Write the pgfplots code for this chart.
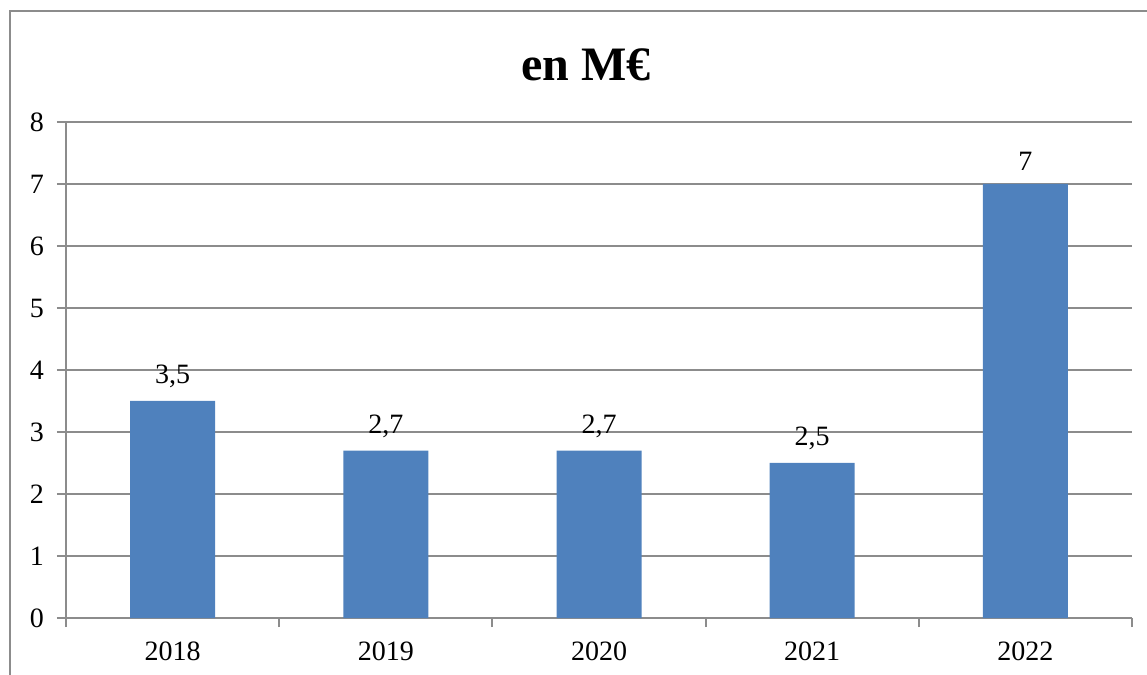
\documentclass[border=0pt]{standalone}
\usepackage{fontspec}
\setmainfont{Liberation Serif}
\usepackage{pgfplots}
\pgfplotsset{compat=1.18}
\definecolor{barblue}{HTML}{4F81BD}
\definecolor{gridgray}{HTML}{8C8C8C}
\begin{document}
\begin{tikzpicture}
\path[use as bounding box] (0,0) rectangle (573.5pt,337.5pt);
\draw[gridgray, line width=1pt] (5pt,-20pt) -- (5pt,332pt) -- (600pt,332pt);
\node[font=\fontsize{24}{28}\selectfont\bfseries] at (293pt,305pt) {en M€};
\begin{axis}[
  at={(33pt,28.5pt)}, anchor=south west,
  scale only axis, width=533pt, height=248pt,
  xmin=-0.5, xmax=4.5, ymin=0, ymax=8,
  axis x line*=bottom, axis y line*=left,
  axis line style={gridgray, line width=1pt, -},
  xtick={0,1,2,3,4},
  xticklabels={2018,2019,2020,2021,2022},
  minor xtick={-0.5,0.5,1.5,2.5,3.5,4.5},
  ytick={0,1,...,8},
  tick align=outside,
  major tick length=4.5pt,
  x tick style={draw=none},
  minor x tick style={draw=gridgray, line width=1pt},
  minor tick length=4.5pt,
  y tick style={gridgray, line width=1pt},
  ymajorgrids,
  grid style={gridgray, line width=1pt},
  ticklabel style={font=\fontsize{14}{16}\selectfont},
  /pgf/number format/assume math mode=true,
  xticklabel style={yshift=-4pt},
  yticklabel style={xshift=-3pt},
  nodes near coords,
  nodes near coords style={font=\fontsize{14}{16}\selectfont, yshift=3pt},
  /pgf/number format/use comma,
  ybar, bar width=42.5pt,
]
\addplot[fill=barblue, draw=none] coordinates {(0,3.5) (1,2.7) (2,2.7) (3,2.5) (4,7)};
\end{axis}
\end{tikzpicture}
\end{document}
